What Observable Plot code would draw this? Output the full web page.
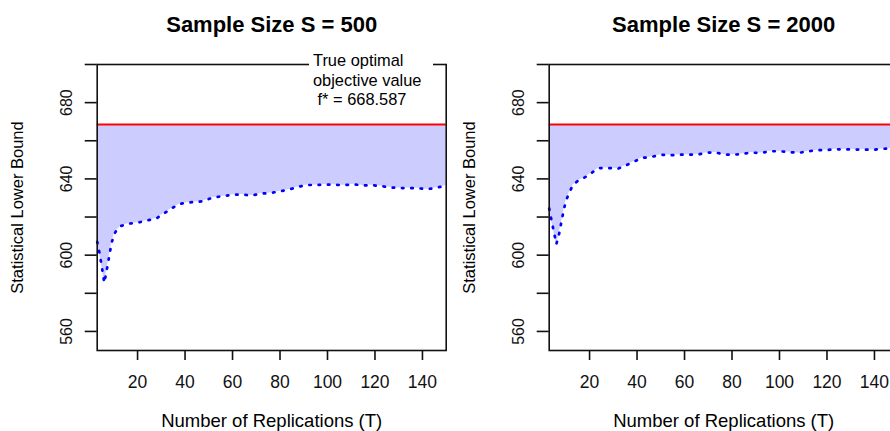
<!DOCTYPE html>
<html>
<head>
<meta charset="utf-8">
<script src="https://cdn.jsdelivr.net/npm/d3@7"></script>
<script src="https://cdn.jsdelivr.net/npm/@observablehq/plot@0.6"></script>
<style>
  html, body { margin: 0; padding: 0; background: #fff; }
  #figure { position: relative; width: 890px; height: 431px; overflow: hidden; background: #fff;
            font-family: "Liberation Sans", Arial, Helvetica, sans-serif; }
  .panel { position: absolute; top: 0; width: 452px; height: 431px; }
  .panel svg { max-width: none !important; }
  #note { position: absolute; left: 309px; top: 51px; width: 124px; height: 62px; background: #fff;
          padding-left: 4px; box-sizing: border-box; font-size: 16.4px; line-height: 19.6px;
          color: #000; white-space: pre; }
</style>
</head>
<body>
<div id="figure"></div>
<script>
// True optimal objective value
const fStar = 668.587;

// Panel titles
const titles = ["Sample Size S = 500", "Sample Size S = 2000"];
const xTitle = "Number of Replications (T)";
const yTitle = "Statistical Lower Bound";

// Axis ticks
const xTicks = [20, 40, 60, 80, 100, 120, 140];
const yTicks = [560, 580, 600, 620, 640, 660, 680, 700];
const yTickLabels = [560, 600, 640, 680];

// Statistical lower bound vs. number of replications, S = 500
const repsS500 = [3, 4, 5, 6, 7, 8, 9, 10, 11, 13, 16, 20, 24, 28, 31, 35, 38, 42, 47, 52, 56, 60, 64, 68, 72, 76, 80, 84, 88, 91, 95, 99, 103, 107, 111, 115, 118, 122, 126, 130, 134, 138, 142, 146, 150];
const lowerS500 = [607, 601, 593.5, 585.5, 592, 599, 606, 610.5, 612.8, 615.3, 616.5, 617, 618.2, 619.3, 621.8, 625, 627, 627.7, 628.2, 630.3, 630.9, 631.7, 631.8, 631.3, 632.3, 632.6, 633.5, 634.5, 635.9, 636.8, 636.8, 637, 636.9, 636.7, 637.2, 636.5, 636.8, 636.3, 635.6, 635.2, 635.2, 635.1, 634.6, 635.4, 636.5];

// Statistical lower bound vs. number of replications, S = 2000
const repsS2000 = [3, 4, 5, 6, 7, 8, 9, 10, 11.5, 13, 15, 18, 21, 24, 28, 32, 35, 39, 42, 46, 50, 54, 58, 62, 66, 70, 73, 77, 81, 85, 88, 92, 96, 100, 104, 108, 112, 116, 120, 124, 128, 132, 136, 139, 143, 146, 150];
const lowerS2000 = [624.5, 618, 612, 605.8, 610, 616.5, 622.8, 628.3, 633, 636.7, 638.9, 640.8, 643.3, 645.7, 645.7, 645.4, 646.9, 649.2, 651, 651.5, 652.7, 652.4, 652.7, 652.7, 652.9, 653.8, 653.9, 652.7, 652.7, 653.2, 653.8, 653.6, 654.5, 654.5, 654.1, 653.6, 654.5, 655, 655.2, 655.5, 655.5, 655.4, 655.4, 655.2, 655.7, 656, 656.2];

const font = "'Liberation Sans', Arial, Helvetica, sans-serif";
const ink = "#111";

function panel(title, reps, lower) {
  const data = reps.map((t, i) => ({T: t, lb: lower[i]}));
  return Plot.plot({
    width: 452,
    height: 431,
    marginLeft: 96.7,
    marginRight: 6.3,
    marginTop: 64,
    marginBottom: 81,
    style: {fontFamily: font, color: ink, background: "transparent", overflow: "visible"},
    x: {domain: [3, 150]},
    y: {domain: [550, 700]},
    marks: [
      // gap between the lower bound and the true optimum
      Plot.areaY(data, {x: "T", y1: "lb", y2: () => fStar, fill: "#ccccff"}),
      Plot.ruleY([fStar], {stroke: "#ff0000", strokeWidth: 2}),
      Plot.line(data, {x: "T", y: "lb", stroke: "#0000ff", strokeWidth: 2.7,
                       strokeDasharray: "1.5,7.8", strokeLinecap: "round", strokeLinejoin: "round"}),
      Plot.frame({stroke: ink, strokeWidth: 1.6}),
      Plot.axisX({ticks: xTicks, tickSize: 10, tickPadding: 15, fontSize: 17.5,
                  strokeWidth: 1.6, label: null}),
      Plot.axisY({ticks: yTicks, tickSize: 12, tickPadding: 13, tickRotate: -90,
                  textAnchor: "middle", lineAnchor: "bottom", fontSize: 16,
                  strokeWidth: 1.6, label: null,
                  tickFormat: d => yTickLabels.includes(d) ? String(d) : ""}),
      Plot.text([title], {frameAnchor: "top", dy: -40, lineAnchor: "middle",
                          fontSize: 22, fontWeight: "bold", fill: "#000"}),
      Plot.text([xTitle], {frameAnchor: "bottom", dy: 71, lineAnchor: "middle",
                           fontSize: 18.5, fill: "#000"}),
      Plot.text([yTitle], {frameAnchor: "left", dx: -79, rotate: -90, textAnchor: "middle",
                           lineAnchor: "middle", fontSize: 16.5, fill: "#000"})
    ]
  });
}

const fig = document.getElementById("figure");
const offsets = [0, 451.6];
const series = [[repsS500, lowerS500], [repsS2000, lowerS2000]];
titles.forEach((t, k) => {
  const holder = document.createElement("div");
  holder.className = "panel";
  holder.style.left = offsets[k] + "px";
  holder.appendChild(panel(t, series[k][0], series[k][1]));
  fig.appendChild(holder);
});

// Label for the true optimal value in the first panel
const note = document.createElement("div");
note.id = "note";
note.textContent = ["True optimal", "objective value", " f* = " + fStar.toFixed(3)].join("\n");
fig.appendChild(note);
</script>
</body>
</html>
